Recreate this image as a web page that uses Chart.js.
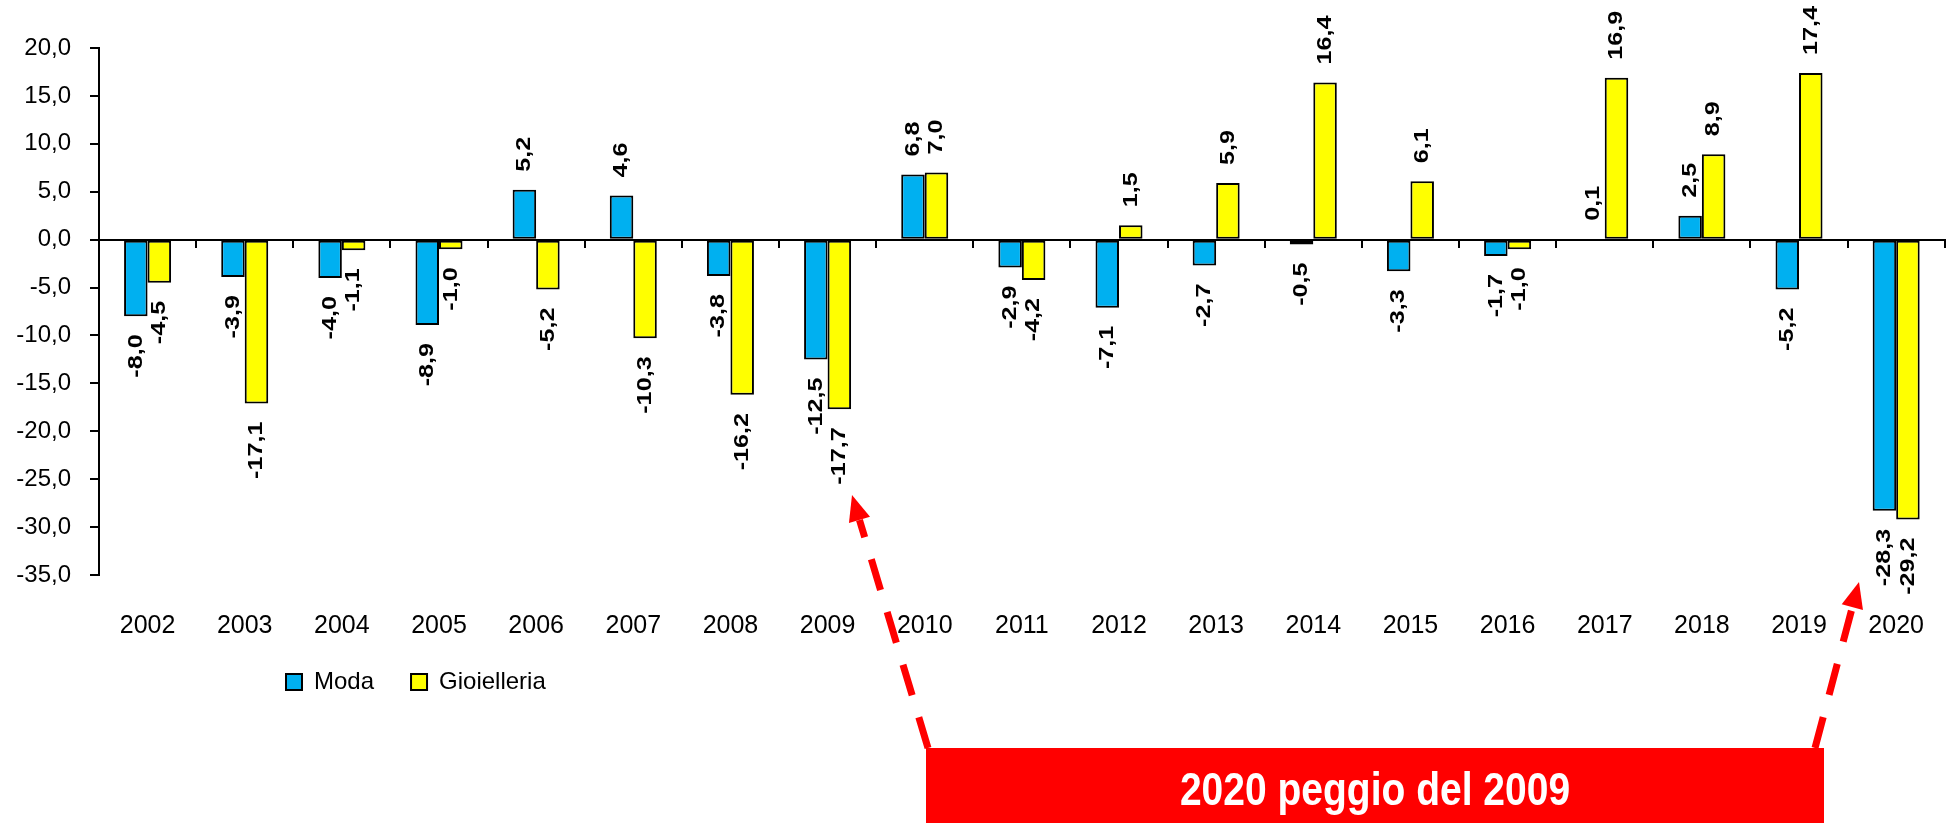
<!DOCTYPE html>
<html>
<head>
<meta charset="utf-8">
<script src="https://cdn.jsdelivr.net/npm/chart.js@4.4.1/dist/chart.umd.min.js"></script>
<style>
  html, body { margin: 0; padding: 0; background: #fff; overflow: hidden; }
  #wrap { width: 1960px; height: 823px; }
</style>
</head>
<body>
<div id="wrap"><canvas id="myChart" width="1960" height="823"></canvas></div>
<script>
// data
var years = ["2002", "2003", "2004", "2005", "2006", "2007", "2008", "2009", "2010", "2011",
             "2012", "2013", "2014", "2015", "2016", "2017", "2018", "2019", "2020"];
var moda = [-8.0, -3.9, -4.0, -8.9, 5.2, 4.6, -3.8, -12.5, 6.8, -2.9,
            -7.1, -2.7, -0.5, -3.3, -1.7, 0.1, 2.5, -5.2, -28.3];
var gioielleria = [-4.5, -17.1, -1.1, -1.0, -5.2, -10.3, -16.2, -17.7, 7.0, -4.2,
                   1.5, 5.9, 16.4, 6.1, -1.0, 16.9, 8.9, 17.4, -29.2];
var yMin = -35, yMax = 20, yStep = 5;
var noteText = "2020 peggio del 2009";

var arial = '"Liberation Sans", Arial, sans-serif';

function fmt(v) { return v.toFixed(1).replace('.', ','); }

// rotated value labels at bar ends (slightly stretched like the original)
var barLabels = {
    id: 'barLabels',
    afterDatasetsDraw: function(chart) {
        var ctx = chart.ctx;
        ctx.save();
        ctx.font = 'bold 21px ' + arial;
        ctx.fillStyle = '#000';
        ctx.textBaseline = 'middle';
        chart.data.datasets.forEach(function(ds, i) {
            chart.getDatasetMeta(i).data.forEach(function(bar, j) {
                var v = ds.data[j];
                ctx.save();
                ctx.translate(bar.x, v >= 0 ? bar.y - 18 : bar.y + 18);
                ctx.scale(1, 1.2);
                ctx.rotate(-Math.PI / 2);
                ctx.textAlign = v >= 0 ? 'left' : 'right';
                ctx.fillText(fmt(v), 0, 0);
                ctx.restore();
            });
        });
        ctx.restore();
    }
};

// move legend to the left like the original
var legendShift = {
    id: 'legendShift',
    afterLayout: function(chart) {
        chart.legend.left += 234;
        chart.legend.right += 234;
    }
};

function arrow(ctx, x0, y0, x1, y1) {
    var a = Math.atan2(y1 - y0, x1 - x0);
    var len = 26, hw = 11;
    var bx = x1 - Math.cos(a) * len, by = y1 - Math.sin(a) * len;
    ctx.beginPath();
    ctx.moveTo(x0, y0);
    ctx.lineTo(bx, by);
    ctx.stroke();
    ctx.beginPath();
    ctx.moveTo(x1, y1);
    ctx.lineTo(bx + Math.sin(a) * hw, by - Math.cos(a) * hw);
    ctx.lineTo(bx - Math.sin(a) * hw, by + Math.cos(a) * hw);
    ctx.closePath();
    ctx.fill();
}

// red callout below the chart
var note = {
    id: 'note',
    afterDraw: function(chart) {
        var ctx = chart.ctx;
        ctx.save();
        ctx.strokeStyle = '#FF0000';
        ctx.fillStyle = '#FF0000';
        ctx.lineWidth = 7;
        ctx.setLineDash([32, 23]);
        arrow(ctx, 928, 748, 852, 495);
        arrow(ctx, 1815, 748, 1859, 582);
        ctx.setLineDash([]);
        ctx.fillRect(926, 748, 898, 80);
        ctx.fillStyle = '#fff';
        ctx.font = 'bold 39px ' + arial;
        ctx.textAlign = 'center';
        ctx.textBaseline = 'alphabetic';
        ctx.translate(1375, 805);
        ctx.scale(1, 1.18);
        ctx.fillText(noteText, 0, 0);
        ctx.restore();
    }
};

new Chart("myChart", {
    type: "bar",
    data: {
        labels: years,
        datasets: [{
            label: "Moda",
            data: moda,
            backgroundColor: "#00B0F0",
            borderColor: "#000",
            borderWidth: 2,
            borderSkipped: false,
            xAxisID: 'x'
        }, {
            label: "Gioielleria",
            data: gioielleria,
            backgroundColor: "#FFFF00",
            borderColor: "#000",
            borderWidth: 2,
            borderSkipped: false,
            xAxisID: 'x'
        }]
    },
    options: {
        responsive: false,
        animation: false,
        devicePixelRatio: 1,
        categoryPercentage: 0.484,
        barPercentage: 1,
        layout: { padding: { top: 48, left: 15, right: 1, bottom: 119 } },
        scales: {
            x: {
                type: 'category',
                position: 'bottom',
                offset: true,
                grid: { display: false, drawTicks: false },
                border: { display: false },
                ticks: {
                    color: '#000',
                    font: { family: arial, size: 25 },
                    padding: 36,
                    maxRotation: 0,
                    autoSkip: false
                },
                afterFit: function(s) { s.height = 58; }
            },
            x2: {
                type: 'category',
                position: { y: 0 },
                offset: true,
                grid: { offset: true, drawOnChartArea: false, drawTicks: true, tickLength: 7, color: '#000', lineWidth: 2 },
                border: { display: true, color: '#000', width: 2 },
                ticks: { display: false }
            },
            y: {
                min: yMin,
                max: yMax,
                grid: { drawOnChartArea: false, drawTicks: true, tickLength: 9, color: '#000', lineWidth: 2 },
                border: { display: true, color: '#000', width: 2 },
                ticks: {
                    stepSize: yStep,
                    color: '#000',
                    padding: 19,
                    font: { family: arial, size: 24 },
                    callback: function(v) { return fmt(v); }
                },
                afterFit: function(s) { s.width = 84; }
            }
        },
        plugins: {
            legend: {
                position: 'bottom',
                align: 'start',
                labels: {
                    color: '#000',
                    boxWidth: 16,
                    boxHeight: 16,
                    padding: 37,
                    font: { family: arial, size: 24 }
                }
            },
            title: { display: false },
            tooltip: { enabled: false }
        }
    },
    plugins: [barLabels, legendShift, note]
});
</script>
</body>
</html>
